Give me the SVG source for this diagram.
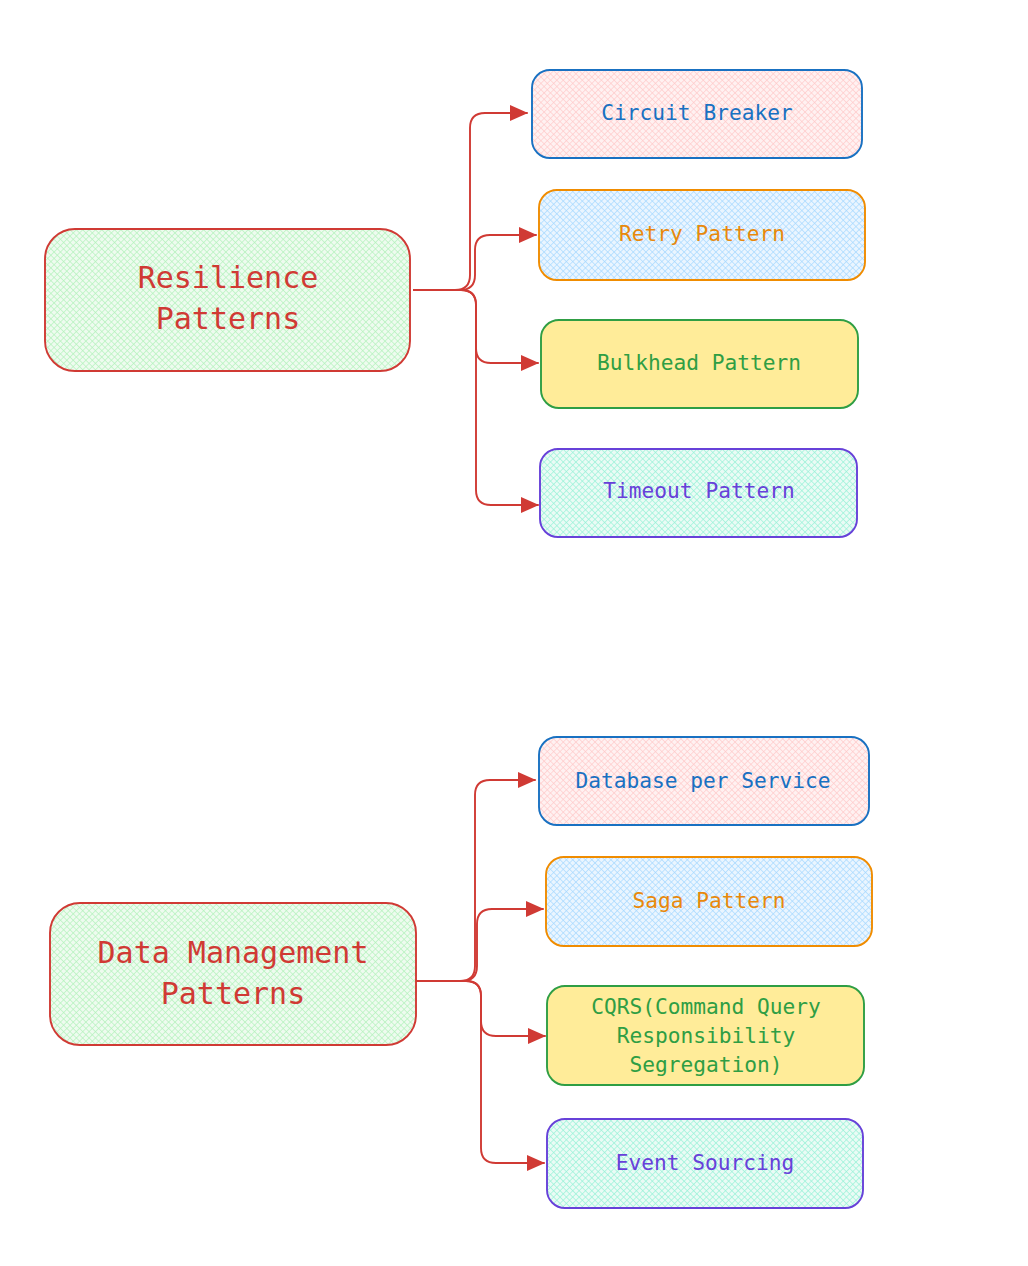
<svg xmlns="http://www.w3.org/2000/svg" width="1028" height="1266" viewBox="0 0 1028 1266">
<style>
text{font-family:"DejaVu Sans Mono","Liberation Mono",monospace;text-anchor:middle;dominant-baseline:central}
.big{font-size:30px}
.sm{font-size:21.2px}
.conn path{fill:none;stroke:#d03a34;stroke-width:1.9;stroke-linecap:round}
.box{stroke-width:1.9}
</style>
<defs>
<pattern id="hG" width="4.5" height="4.5" patternUnits="userSpaceOnUse" patternTransform="rotate(45)"><rect width="5" height="5" fill="#eefbef"/><path d="M0 0V5M0 0H5" stroke="#b2f2bb" stroke-width="1.3"/></pattern>
<pattern id="hP" width="4.5" height="4.5" patternUnits="userSpaceOnUse" patternTransform="rotate(45)"><rect width="5" height="5" fill="#fff1f1"/><path d="M0 0V5M0 0H5" stroke="#ffc9c9" stroke-width="1.3"/></pattern>
<pattern id="hB" width="4.5" height="4.5" patternUnits="userSpaceOnUse" patternTransform="rotate(45)"><rect width="5" height="5" fill="#eaf5ff"/><path d="M0 0V5M0 0H5" stroke="#a5d8ff" stroke-width="1.3"/></pattern>
<pattern id="hT" width="4.5" height="4.5" patternUnits="userSpaceOnUse" patternTransform="rotate(45)"><rect width="5" height="5" fill="#eafbf5"/><path d="M0 0V5M0 0H5" stroke="#96f2d7" stroke-width="1.3"/></pattern>
<marker id="ah" viewBox="0 0 18 16" refX="17" refY="8" markerWidth="18" markerHeight="16" markerUnits="userSpaceOnUse" orient="auto"><path d="M0 0L18 8L0 16Z" fill="#d03a34"/></marker>
</defs>
<rect width="1028" height="1266" fill="#ffffff"/>

<g class="conn">
<path d="M414 290H455Q470 290 470 275V128Q470 113 485 113H527" marker-end="url(#ah)"/>
<path d="M414 290H460Q475 290 475 275V250Q475 235 490 235H536" marker-end="url(#ah)"/>
<path d="M414 290H461Q476 290 476 305V348Q476 363 491 363H538" marker-end="url(#ah)"/>
<path d="M414 290H461Q476 290 476 305V490Q476 505 491 505H538" marker-end="url(#ah)"/>
<path d="M410 981H460Q475 981 475 966V795Q475 780 490 780H535" marker-end="url(#ah)"/>
<path d="M410 981H462Q477 981 477 966V924Q477 909 492 909H543" marker-end="url(#ah)"/>
<path d="M410 981H466Q481 981 481 996V1021Q481 1036 496 1036H545" marker-end="url(#ah)"/>
<path d="M410 981H466Q481 981 481 996V1148Q481 1163 496 1163H544" marker-end="url(#ah)"/>
</g>

<g id="resilience">
<rect class="box" x="45" y="229" width="365" height="142" rx="30" fill="url(#hG)" stroke="#d03a34"/>
<text class="big" x="228" y="277" fill="#d03a34">Resilience</text>
<text class="big" x="228" y="318" fill="#d03a34">Patterns</text>
</g>
<g id="circuit-breaker">
<rect class="box" x="532" y="70" width="330" height="88" rx="18" fill="url(#hP)" stroke="#1971c2"/>
<text class="sm" x="697" y="112" fill="#1971c2">Circuit Breaker</text>
</g>
<g id="retry">
<rect class="box" x="539" y="190" width="326" height="90" rx="18" fill="url(#hB)" stroke="#f08c00"/>
<text class="sm" x="702" y="233" fill="#e8890c">Retry Pattern</text>
</g>
<g id="bulkhead">
<rect class="box" x="541" y="320" width="317" height="88" rx="18" fill="#ffec99" stroke="#2f9e44"/>
<text class="sm" x="699" y="362" fill="#2f9e44">Bulkhead Pattern</text>
</g>
<g id="timeout">
<rect class="box" x="540" y="449" width="317" height="88" rx="18" fill="url(#hT)" stroke="#6741d9"/>
<text class="sm" x="699" y="490" fill="#6741d9">Timeout Pattern</text>
</g>

<g id="data-management">
<rect class="box" x="50" y="903" width="366" height="142" rx="30" fill="url(#hG)" stroke="#d03a34"/>
<text class="big" x="233" y="952" fill="#d03a34">Data Management</text>
<text class="big" x="233" y="993" fill="#d03a34">Patterns</text>
</g>
<g id="db-per-service">
<rect class="box" x="539" y="737" width="330" height="88" rx="18" fill="url(#hP)" stroke="#1971c2"/>
<text class="sm" x="703" y="780" fill="#1971c2">Database per Service</text>
</g>
<g id="saga">
<rect class="box" x="546" y="857" width="326" height="89" rx="18" fill="url(#hB)" stroke="#f08c00"/>
<text class="sm" x="709" y="900" fill="#e8890c">Saga Pattern</text>
</g>
<g id="cqrs">
<rect class="box" x="547" y="986" width="317" height="99" rx="18" fill="#ffec99" stroke="#2f9e44"/>
<text class="sm" x="706" y="1006" fill="#2f9e44">CQRS(Command Query</text>
<text class="sm" x="706" y="1035" fill="#2f9e44">Responsibility</text>
<text class="sm" x="706" y="1064" fill="#2f9e44">Segregation)</text>
</g>
<g id="event-sourcing">
<rect class="box" x="547" y="1119" width="316" height="89" rx="18" fill="url(#hT)" stroke="#6741d9"/>
<text class="sm" x="705" y="1162" fill="#6741d9">Event Sourcing</text>
</g>
</svg>
